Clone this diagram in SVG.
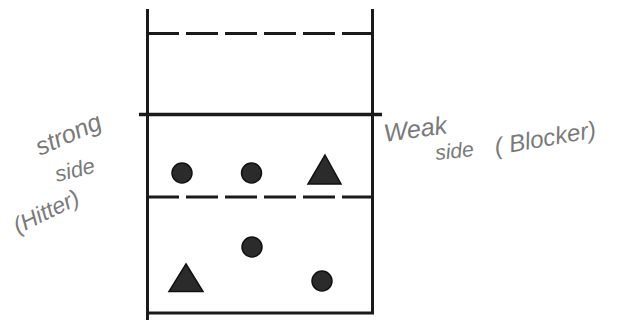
<svg xmlns="http://www.w3.org/2000/svg" width="618" height="320" viewBox="0 0 618 320">
<style>
.court{stroke:#1a1a1a;stroke-width:3;fill:none}
.dash{stroke:#1a1a1a;stroke-width:3;fill:none;stroke-dasharray:32 7}
.pl{fill:#2b2b2b;stroke:#111;stroke-width:1.5}
.hand{font-family:"Liberation Sans",Arial,sans-serif;font-style:italic;fill:#7a7a7a;font-size:24px}
</style>
<rect width="618" height="320" fill="#ffffff"/>
<g id="court">
<line class="court" x1="147.5" y1="9" x2="147.5" y2="320"/>
<line class="court" x1="372.5" y1="9" x2="372.5" y2="314"/>
<line class="court" x1="146" y1="313" x2="374" y2="313"/>
<line class="dash" x1="147" y1="33.5" x2="373" y2="33.5"/>
<line class="court" x1="139" y1="114.5" x2="382" y2="114.5" style="stroke-width:3.5"/>
<line class="dash" x1="147" y1="197" x2="373" y2="197"/>
</g>
<g id="player1"><circle class="pl" cx="182" cy="173" r="10"/></g>
<g id="player2"><circle class="pl" cx="251.5" cy="173" r="10"/></g>
<g id="player3"><polygon class="pl" points="325,155 341,184 308,184"/></g>
<g id="player4"><circle class="pl" cx="252" cy="247" r="10"/></g>
<g id="player5"><polygon class="pl" points="186,264 203,291.5 169,291.5"/></g>
<g id="player6"><circle class="pl" cx="322" cy="281" r="10"/></g>
<g id="labels">
<text class="hand" transform="translate(40,156) rotate(-24)" style="font-size:25px">strong</text>
<text class="hand" transform="translate(57,182) rotate(-14)" style="font-size:22px">side</text>
<text class="hand" transform="translate(18,234) rotate(-26)" style="font-size:23px">(Hitter)</text>
<text class="hand" transform="translate(385,142) rotate(-8)" style="font-size:25px">Weak</text>
<text class="hand" transform="translate(436,160) rotate(-6)" style="font-size:21px">side</text>
<text class="hand" transform="translate(496,155) rotate(-10)" style="font-size:24px">( Blocker)</text>
</g>
</svg>
